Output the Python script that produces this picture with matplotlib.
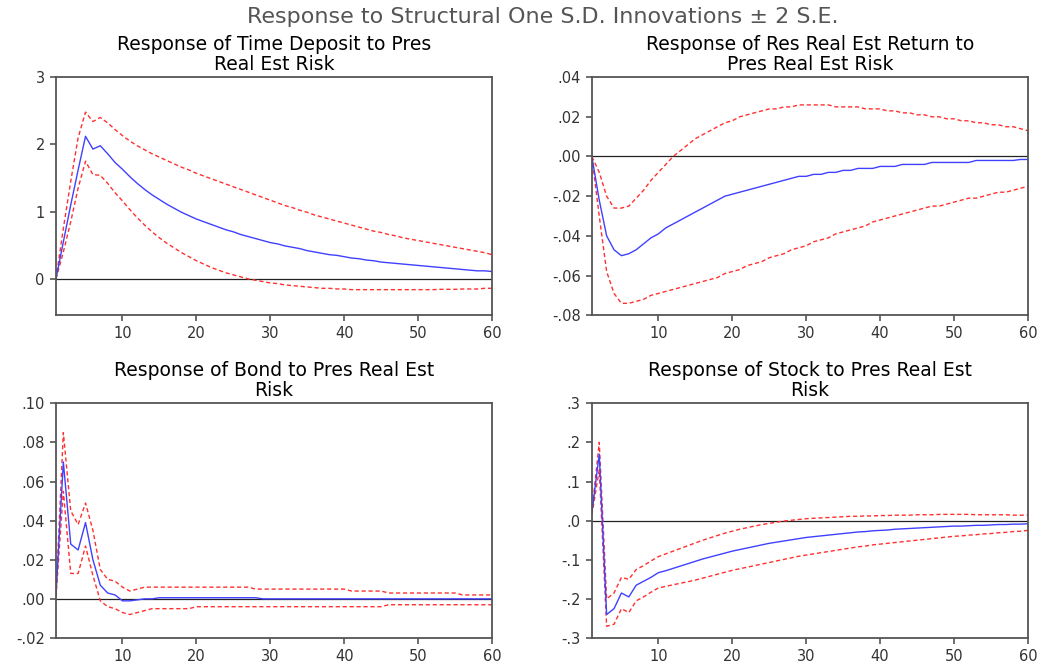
import numpy as np
import matplotlib
matplotlib.use("Agg")
import matplotlib.pyplot as plt

plt.rcParams['font.family'] = ['DejaVu Sans']

periods = np.arange(1, 61)

# Time Deposit
td_resp = [0.00, 0.55, 1.10, 1.62, 2.12, 1.93, 1.98, 1.86, 1.73, 1.63,
           1.52, 1.42, 1.33, 1.25, 1.18, 1.11, 1.05, 0.99, 0.94, 0.89,
           0.85, 0.81, 0.77, 0.73, 0.70, 0.66, 0.63, 0.60, 0.57, 0.54,
           0.52, 0.49, 0.47, 0.45, 0.42, 0.40, 0.38, 0.36, 0.35, 0.33,
           0.31, 0.30, 0.28, 0.27, 0.25, 0.24, 0.23, 0.22, 0.21, 0.20,
           0.19, 0.18, 0.17, 0.16, 0.15, 0.14, 0.13, 0.12, 0.12, 0.11]
td_upper = [0.00, 0.75, 1.45, 2.10, 2.48, 2.34, 2.40, 2.32, 2.22, 2.13,
            2.05, 1.98, 1.92, 1.86, 1.81, 1.76, 1.71, 1.66, 1.62, 1.57,
            1.53, 1.49, 1.45, 1.41, 1.37, 1.33, 1.29, 1.25, 1.21, 1.17,
            1.13, 1.09, 1.06, 1.02, 0.99, 0.95, 0.92, 0.89, 0.86, 0.83,
            0.80, 0.77, 0.74, 0.71, 0.69, 0.66, 0.64, 0.61, 0.59, 0.57,
            0.55, 0.53, 0.51, 0.49, 0.47, 0.45, 0.43, 0.41, 0.39, 0.36]
td_lower = [0.00, 0.40, 0.85, 1.35, 1.75, 1.55, 1.54, 1.42, 1.28, 1.16,
            1.03, 0.91, 0.80, 0.70, 0.61, 0.53, 0.46, 0.39, 0.33, 0.27,
            0.22, 0.17, 0.13, 0.09, 0.06, 0.03, 0.00, -0.02, -0.04, -0.06,
            -0.07, -0.09, -0.10, -0.11, -0.12, -0.13, -0.14, -0.14, -0.15, -0.15,
            -0.16, -0.16, -0.16, -0.16, -0.16, -0.16, -0.16, -0.16, -0.16, -0.16,
            -0.16, -0.16, -0.155, -0.155, -0.155, -0.15, -0.15, -0.15, -0.14, -0.14]

# Res Real Est Return
rer_resp = [0.000, -0.022, -0.040, -0.047, -0.050, -0.049, -0.047, -0.044, -0.041, -0.039,
            -0.036, -0.034, -0.032, -0.030, -0.028, -0.026, -0.024, -0.022, -0.020, -0.019,
            -0.018, -0.017, -0.016, -0.015, -0.014, -0.013, -0.012, -0.011, -0.010, -0.010,
            -0.009, -0.009, -0.008, -0.008, -0.007, -0.007, -0.006, -0.006, -0.006, -0.005,
            -0.005, -0.005, -0.004, -0.004, -0.004, -0.004, -0.003, -0.003, -0.003, -0.003,
            -0.003, -0.003, -0.002, -0.002, -0.002, -0.002, -0.002, -0.002, -0.0015, -0.0015]
rer_upper = [0.000, -0.008, -0.020, -0.026, -0.026, -0.025, -0.021, -0.017, -0.012, -0.008,
             -0.004, 0.000, 0.003, 0.006, 0.009, 0.011, 0.013, 0.015, 0.017, 0.018,
             0.020, 0.021, 0.022, 0.023, 0.024, 0.024, 0.025, 0.025, 0.026, 0.026,
             0.026, 0.026, 0.026, 0.025, 0.025, 0.025, 0.025, 0.024, 0.024, 0.024,
             0.023, 0.023, 0.022, 0.022, 0.021, 0.021, 0.020, 0.020, 0.019, 0.019,
             0.018, 0.018, 0.017, 0.017, 0.016, 0.016, 0.015, 0.015, 0.014, 0.013]
rer_lower = [0.000, -0.030, -0.058, -0.069, -0.074, -0.074, -0.073, -0.072, -0.070, -0.069,
             -0.068, -0.067, -0.066, -0.065, -0.064, -0.063, -0.062, -0.061, -0.059, -0.058,
             -0.057, -0.055, -0.054, -0.053, -0.051, -0.050, -0.049, -0.047, -0.046, -0.045,
             -0.043, -0.042, -0.041, -0.039, -0.038, -0.037, -0.036, -0.035, -0.033, -0.032,
             -0.031, -0.030, -0.029, -0.028, -0.027, -0.026, -0.025, -0.025, -0.024, -0.023,
             -0.022, -0.021, -0.021, -0.020, -0.019, -0.018, -0.018, -0.017, -0.016, -0.015]

# Bond
bond_resp = [0.002, 0.070, 0.028, 0.025, 0.039, 0.020, 0.007, 0.003, 0.002, -0.001,
             -0.001, -0.0005, 0.0, 0.0, 0.0006, 0.0006, 0.0006, 0.0006, 0.0006, 0.0006,
             0.0006, 0.0006, 0.0006, 0.0006, 0.0006, 0.0006, 0.0006, 0.0006, 0.0, 0.0,
             0.0, 0.0, 0.0, 0.0, 0.0, 0.0, 0.0, 0.0, 0.0, 0.0,
             0.0, 0.0, 0.0, 0.0, 0.0, 0.0, 0.0, 0.0, 0.0, 0.0,
             0.0, 0.0, 0.0, 0.0, 0.0, 0.0, 0.0, 0.0, 0.0, 0.0]
bond_upper = [0.002, 0.085, 0.045, 0.038, 0.049, 0.035, 0.015, 0.010, 0.009, 0.006,
              0.004, 0.005, 0.006, 0.006, 0.006, 0.006, 0.006, 0.006, 0.006, 0.006,
              0.006, 0.006, 0.006, 0.006, 0.006, 0.006, 0.006, 0.005, 0.005, 0.005,
              0.005, 0.005, 0.005, 0.005, 0.005, 0.005, 0.005, 0.005, 0.005, 0.005,
              0.004, 0.004, 0.004, 0.004, 0.004, 0.003, 0.003, 0.003, 0.003, 0.003,
              0.003, 0.003, 0.003, 0.003, 0.003, 0.002, 0.002, 0.002, 0.002, 0.002]
bond_lower = [0.001, 0.055, 0.013, 0.013, 0.027, 0.012, -0.001, -0.004, -0.005, -0.007,
              -0.008, -0.007, -0.006, -0.005, -0.005, -0.005, -0.005, -0.005, -0.005, -0.004,
              -0.004, -0.004, -0.004, -0.004, -0.004, -0.004, -0.004, -0.004, -0.004, -0.004,
              -0.004, -0.004, -0.004, -0.004, -0.004, -0.004, -0.004, -0.004, -0.004, -0.004,
              -0.004, -0.004, -0.004, -0.004, -0.004, -0.003, -0.003, -0.003, -0.003, -0.003,
              -0.003, -0.003, -0.003, -0.003, -0.003, -0.003, -0.003, -0.003, -0.003, -0.003]

# Stock
stock_resp = [0.020, 0.170, -0.240, -0.225, -0.185, -0.195, -0.165, -0.155, -0.145, -0.133,
              -0.128, -0.122, -0.116, -0.110, -0.104, -0.098, -0.093, -0.088, -0.083, -0.078,
              -0.074, -0.070, -0.066, -0.062, -0.058, -0.055, -0.052, -0.049, -0.046, -0.043,
              -0.041, -0.039, -0.037, -0.035, -0.033, -0.031, -0.029, -0.028, -0.026, -0.025,
              -0.024, -0.022, -0.021, -0.020, -0.019, -0.018, -0.017, -0.016, -0.015, -0.014,
              -0.014, -0.013, -0.012, -0.012, -0.011, -0.010, -0.010, -0.009, -0.009, -0.008]
stock_upper = [0.020, 0.200, -0.200, -0.185, -0.145, -0.150, -0.125, -0.115, -0.103, -0.092,
               -0.085, -0.078, -0.071, -0.064, -0.057, -0.050, -0.044, -0.038, -0.032, -0.027,
               -0.022, -0.018, -0.014, -0.010, -0.007, -0.004, -0.001, 0.001, 0.003, 0.005,
               0.006, 0.007, 0.008, 0.009, 0.010, 0.011, 0.011, 0.012, 0.012, 0.013,
               0.013, 0.014, 0.014, 0.014, 0.015, 0.015, 0.015, 0.016, 0.016, 0.016,
               0.016, 0.016, 0.015, 0.015, 0.015, 0.015, 0.015, 0.014, 0.014, 0.014]
stock_lower = [0.015, 0.130, -0.270, -0.265, -0.225, -0.235, -0.205, -0.195, -0.183, -0.172,
               -0.168, -0.164, -0.160, -0.156, -0.152, -0.147, -0.142, -0.137, -0.132, -0.127,
               -0.123, -0.119, -0.115, -0.111, -0.107, -0.103, -0.099, -0.095, -0.091, -0.088,
               -0.085, -0.082, -0.079, -0.076, -0.073, -0.070, -0.067, -0.065, -0.062, -0.060,
               -0.058, -0.056, -0.054, -0.052, -0.050, -0.048, -0.046, -0.044, -0.042, -0.040,
               -0.039, -0.037, -0.036, -0.034, -0.033, -0.031, -0.030, -0.028, -0.027, -0.025]

titles = ["Response of Time Deposit to Pres\nReal Est Risk",
          "Response of Res Real Est Return to\nPres Real Est Risk",
          "Response of Bond to Pres Real Est\nRisk",
          "Response of Stock to Pres Real Est\nRisk"]

x_ticks = [10, 20, 30, 40, 50, 60]
td_yticks = [0, 1, 2, 3]
td_ylabels = ["0", "1", "2", "3"]
rer_yticks = [-0.08, -0.06, -0.04, -0.02, 0.00, 0.02, 0.04]
rer_ylabels = ["-.08", "-.06", "-.04", "-.02", ".00", ".02", ".04"]
bond_yticks = [-0.02, 0.00, 0.02, 0.04, 0.06, 0.08, 0.10]
bond_ylabels = ["-.02", ".00", ".02", ".04", ".06", ".08", ".10"]
stock_yticks = [-0.3, -0.2, -0.1, 0.0, 0.1, 0.2, 0.3]
stock_ylabels = ["-.3", "-.2", "-.1", ".0", ".1", ".2", ".3"]

panels = [
    (td_resp, td_upper, td_lower, td_yticks, td_ylabels, (-0.54, 3.0)),
    (rer_resp, rer_upper, rer_lower, rer_yticks, rer_ylabels, (-0.08, 0.04)),
    (bond_resp, bond_upper, bond_lower, bond_yticks, bond_ylabels, (-0.02, 0.10)),
    (stock_resp, stock_upper, stock_lower, stock_yticks, stock_ylabels, (-0.3, 0.3)),
]

# axes rectangles in figure fractions (left, bottom, width, height)
rects = [
    (0.0537, 0.526, 0.4185, 0.358),
    (0.568, 0.526, 0.4185, 0.358),
    (0.0537, 0.0406, 0.4185, 0.353),
    (0.568, 0.0406, 0.4185, 0.353),
]

fig = plt.figure(figsize=(10.42, 6.65), dpi=100)
fig.text(0.521, 0.974, "Response to Structural One S.D. Innovations \u00b1 2 S.E.",
         ha='center', va='center', fontsize=16, color='#555555')

for (resp, up, lo, yt, yl, ylim), rect, title in zip(panels, rects, titles):
    ax = fig.add_axes(rect)
    ax.axhline(0, color='#222222', linewidth=0.9, zorder=1)
    ax.plot(periods, up, color='#ff3030', linestyle=(0, (3, 2)), linewidth=1.0)
    ax.plot(periods, lo, color='#ff3030', linestyle=(0, (3, 2)), linewidth=1.0)
    ax.plot(periods, resp, color='#4040ff', linewidth=1.0)
    ax.set_xlim(1, 60)
    ax.set_ylim(*ylim)
    ax.set_xticks(x_ticks)
    ax.set_yticks(yt)
    ax.set_yticklabels(yl)
    ax.tick_params(direction='out', length=4.5, width=1.2, labelsize=10.5,
                   colors='#555555', labelcolor='#333333', top=False, right=False)
    for s in ax.spines.values():
        s.set_color('#555555')
        s.set_linewidth(1.3)
    ax.set_title(title, fontsize=13.5, linespacing=1.1, pad=5)

plt.savefig("out.png", dpi=100)
